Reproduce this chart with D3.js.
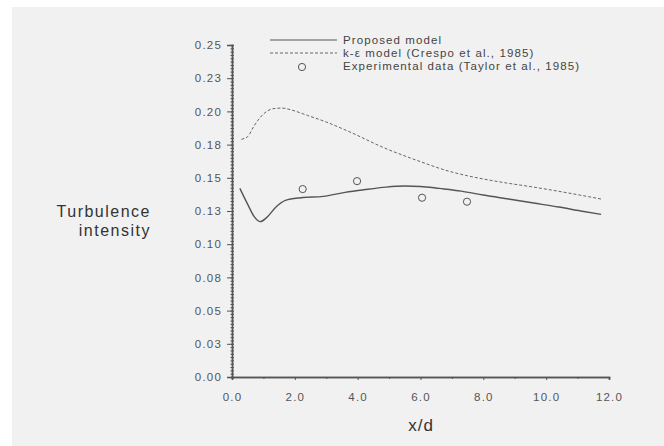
<!DOCTYPE html>
<html>
<head>
<meta charset="utf-8">
<script src="https://cdn.jsdelivr.net/npm/d3@7"></script>
<style>
  body { margin: 0; background: #fff; }
  text { font-family: "Liberation Sans", Arial, sans-serif; fill: #444; }
</style>
</head>
<body>
<div id="chart"></div>
<script>
// data
const proposedX = [0.25, 0.5, 0.7, 0.9, 1.1, 1.4, 1.7, 2.2, 2.9, 3.6, 4.2, 4.9, 5.5, 6.0, 6.6, 7.3, 8.0, 8.8, 9.6, 10.4, 11.1, 11.75];
const proposedY = [0.142, 0.130, 0.121, 0.117, 0.120, 0.128, 0.133, 0.135, 0.136, 0.139, 0.141, 0.143, 0.1438, 0.1435, 0.142, 0.140, 0.137, 0.134, 0.131, 0.128, 0.125, 0.1225];
const crespoX = [0.3, 0.5, 0.7, 1.0, 1.3, 1.6, 1.9, 2.4, 3.0, 3.8, 4.8, 5.9, 6.9, 7.5, 8.5, 9.6, 10.6, 11.75];
const crespoY = [0.179, 0.181, 0.189, 0.198, 0.202, 0.2025, 0.201, 0.197, 0.192, 0.184, 0.173, 0.163, 0.155, 0.1515, 0.147, 0.143, 0.139, 0.134];
const expX = [2.25, 3.98, 6.05, 7.48];
const expY = [0.1415, 0.1475, 0.135, 0.132];
const yTickVals = [0, 0.025, 0.05, 0.075, 0.1, 0.125, 0.15, 0.175, 0.2, 0.225, 0.25];
const yTickLabels = ["0.00", "0.03", "0.05", "0.08", "0.10", "0.13", "0.15", "0.18", "0.20", "0.23", "0.25"];
const xTickVals = [0, 2, 4, 6, 8, 10, 12];
const legendLabels = ["Proposed model", "k-\u03b5 model (Crespo et al., 1985)", "Experimental data (Taylor et al., 1985)"];

const W = 664, H = 446;
const svg = d3.select("#chart").append("svg").attr("width", W).attr("height", H);

svg.append("rect").attr("x", 12).attr("y", 7).attr("width", W - 12).attr("height", H - 7).attr("fill", "#f1f1f1");

const x = d3.scaleLinear().domain([0, 12]).range([232, 609]);
const y = d3.scaleLinear().domain([0, 0.25]).range([377, 45]);

const axisColor = "#555";

// y axis
const gy = svg.append("g").attr("transform", "translate(232,0)");
gy.call(d3.axisLeft(y).tickValues(yTickVals).tickFormat((d, i) => yTickLabels[i]).tickSize(5).tickPadding(5));
gy.append("g").call(d3.axisRight(y).tickValues(d3.range(0, 0.2501, 0.0025)).tickFormat("").tickSize(2));
gy.append("g").call(d3.axisLeft(y).tickValues(d3.range(0, 0.2501, 0.0025)).tickFormat("").tickSize(1.5));
gy.selectAll("path").attr("stroke", axisColor).attr("stroke-width", 1.3);
gy.selectAll("line").attr("stroke", axisColor);
gy.selectAll("text").attr("font-size", 11.5).attr("letter-spacing", 1.2).style("fill", "#555");

// x axis
const gx = svg.append("g").attr("transform", "translate(0,377)");
gx.call(d3.axisBottom(x).tickValues(xTickVals).tickFormat(d3.format(".1f")).tickSize(3).tickPadding(13));
gx.append("g").call(d3.axisBottom(x).tickValues([1, 3, 5, 7, 9, 11]).tickFormat("").tickSize(2));
gx.selectAll("path").attr("stroke", axisColor).attr("stroke-width", 1.6);
gx.selectAll("line").attr("stroke", axisColor);
gx.selectAll("text").attr("font-size", 11.5).attr("letter-spacing", 1.2).style("fill", "#555");

// axis titles
svg.append("text").attr("x", 421).attr("y", 431).attr("text-anchor", "middle")
  .attr("font-size", 17).attr("letter-spacing", 1).style("fill", "#333").text("x/d");
const yl = svg.append("text").attr("text-anchor", "end").attr("font-size", 16).attr("letter-spacing", 1.5).style("fill", "#333");
yl.append("tspan").attr("x", 151).attr("y", 217).text("Turbulence");
yl.append("tspan").attr("x", 151).attr("y", 236).text("intensity");

const line = d3.line().curve(d3.curveMonotoneX).x(d => x(d[0])).y(d => y(d[1]));

svg.append("path").datum(d3.zip(crespoX, crespoY)).attr("d", line)
  .attr("fill", "none").attr("stroke", "#666").attr("stroke-width", 1).attr("stroke-dasharray", "3,2");
svg.append("path").datum(d3.zip(proposedX, proposedY)).attr("d", line)
  .attr("fill", "none").attr("stroke", "#555").attr("stroke-width", 1.4);

svg.selectAll("circle.exp").data(d3.zip(expX, expY)).join("circle").attr("class", "exp")
  .attr("cx", d => x(d[0])).attr("cy", d => y(d[1])).attr("r", 3.6)
  .attr("fill", "none").attr("stroke", "#555").attr("stroke-width", 1);

// legend
const lg = svg.append("g");
lg.append("line").attr("x1", 270).attr("x2", 337).attr("y1", 40).attr("y2", 40).attr("stroke", "#555").attr("stroke-width", 1.2);
lg.append("line").attr("x1", 270).attr("x2", 337).attr("y1", 53).attr("y2", 53).attr("stroke", "#666").attr("stroke-dasharray", "3,2");
lg.append("circle").attr("cx", 302).attr("cy", 67).attr("r", 3.6).attr("fill", "none").attr("stroke", "#555");
lg.selectAll("text").data(legendLabels).join("text")
  .attr("x", 343).attr("y", (d, i) => 44 + i * 13).attr("font-size", 11.5).attr("letter-spacing", 1.1)
  .style("fill", "#444").text(d => d);
</script>
</body>
</html>
